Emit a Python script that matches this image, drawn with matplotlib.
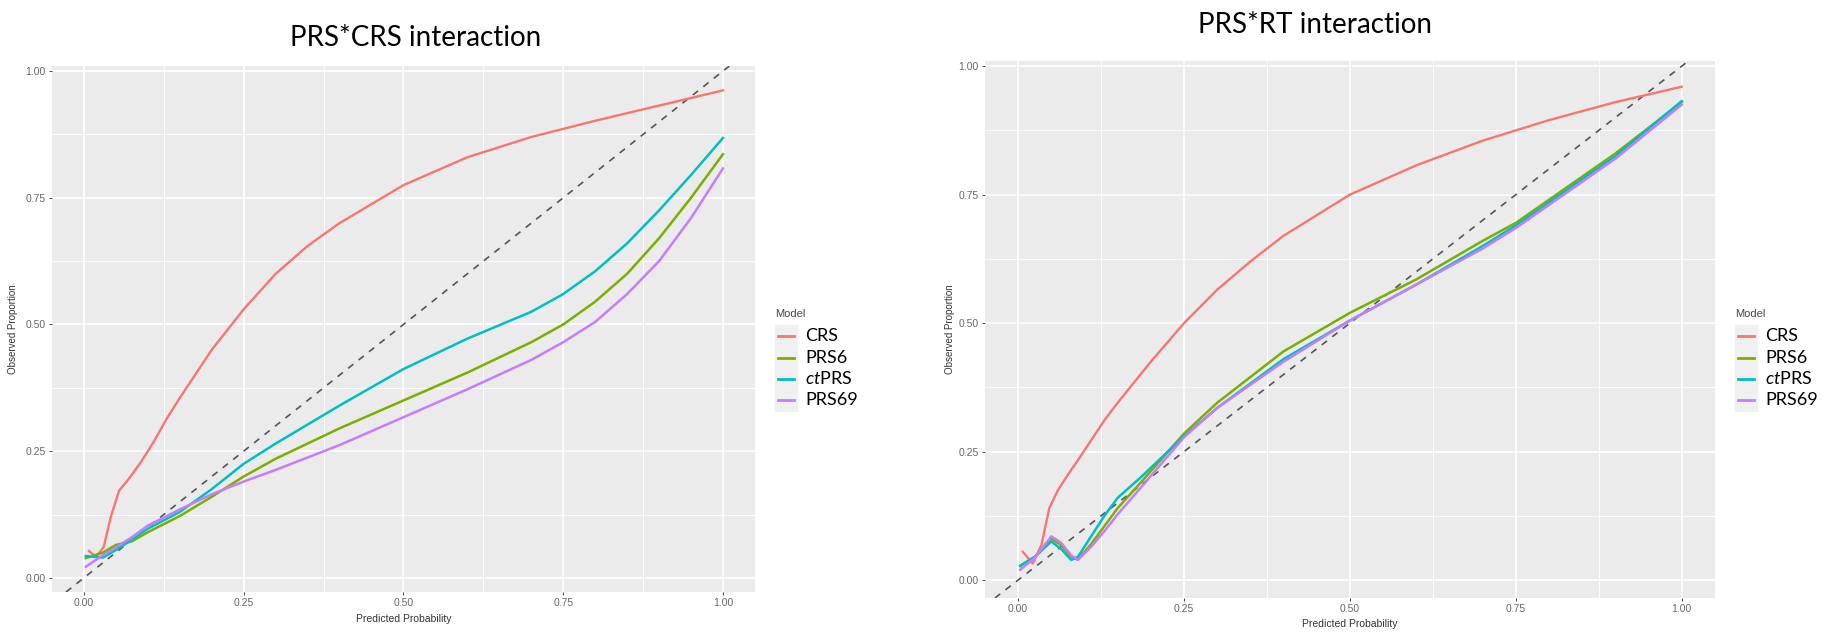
import matplotlib
matplotlib.use("Agg")
import matplotlib.pyplot as plt
from matplotlib.lines import Line2D
from matplotlib.patches import Rectangle

plt.rcParams['font.family'] = ['Liberation Sans', 'DejaVu Sans']
plt.rcParams['mathtext.fontset'] = 'custom'
plt.rcParams['mathtext.it'] = 'Lato:italic'
plt.rcParams['mathtext.rm'] = 'Lato'

models = ['CRS', 'PRS6', 'ctPRS', 'PRS69']
legend_labels = ['CRS', 'PRS6', r'$\mathit{ct}$PRS', 'PRS69']
colors = ['#F8766D', '#7CAE00', '#00BFC4', '#C77CFF']
ticks = [0.0, 0.25, 0.5, 0.75, 1.0]
tick_labels = ['0.00', '0.25', '0.50', '0.75', '1.00']

# --- PRS*CRS panel ---
crs_x_a = [0.008, 0.019, 0.031, 0.042, 0.055, 0.07, 0.089, 0.11, 0.13, 0.15,
           0.2, 0.25, 0.3, 0.35, 0.4, 0.5, 0.6, 0.7, 0.8, 0.9, 1.0]
crs_y_a = [0.053, 0.041, 0.061, 0.12, 0.172, 0.195, 0.228, 0.27, 0.315, 0.355,
           0.45, 0.53, 0.60, 0.655, 0.70, 0.775, 0.83, 0.87, 0.902, 0.932, 0.962]
prs_x_a = [0.003, 0.03, 0.05, 0.075, 0.1, 0.15, 0.2, 0.25, 0.3, 0.4, 0.5,
           0.6, 0.7, 0.75, 0.8, 0.85, 0.9, 0.95, 1.0]
prs6_y_a = [0.039, 0.050, 0.065, 0.072, 0.090, 0.122, 0.160, 0.200, 0.235,
            0.295, 0.350, 0.405, 0.465, 0.500, 0.545, 0.600, 0.670, 0.750, 0.836]
ctprs_y_a = [0.043, 0.040, 0.055, 0.075, 0.097, 0.130, 0.175, 0.225, 0.265,
             0.340, 0.412, 0.472, 0.525, 0.560, 0.605, 0.660, 0.725, 0.795, 0.868]
prs69_y_a = [0.022, 0.045, 0.060, 0.080, 0.103, 0.135, 0.165, 0.190, 0.213,
             0.262, 0.317, 0.372, 0.430, 0.465, 0.505, 0.560, 0.625, 0.710, 0.808]

# --- PRS*RT panel ---
crs_x_b = [0.007, 0.022, 0.035, 0.047, 0.06, 0.075, 0.09, 0.11, 0.13, 0.15,
           0.2, 0.25, 0.3, 0.35, 0.4, 0.5, 0.6, 0.7, 0.8, 0.9, 1.0]
crs_y_b = [0.055, 0.032, 0.068, 0.14, 0.175, 0.205, 0.233, 0.272, 0.311, 0.345,
           0.425, 0.50, 0.565, 0.62, 0.67, 0.75, 0.807, 0.855, 0.895, 0.93, 0.96]
prs_x_b = [0.003, 0.025, 0.05, 0.065, 0.08, 0.09, 0.11, 0.13, 0.15, 0.185,
           0.25, 0.3, 0.4, 0.5, 0.6, 0.7, 0.75, 0.8, 0.9, 1.0]
prs6_y_b = [0.027, 0.045, 0.080, 0.068, 0.045, 0.040, 0.070, 0.105, 0.140,
            0.190, 0.285, 0.345, 0.445, 0.520, 0.585, 0.660, 0.695, 0.740,
            0.830, 0.930]
ctprs_y_b = [0.028, 0.045, 0.075, 0.060, 0.039, 0.045, 0.085, 0.125, 0.160,
             0.200, 0.280, 0.335, 0.430, 0.505, 0.575, 0.650, 0.690, 0.735,
             0.825, 0.932]
prs69_y_b = [0.020, 0.043, 0.085, 0.072, 0.048, 0.039, 0.065, 0.095, 0.128,
             0.180, 0.278, 0.335, 0.425, 0.505, 0.575, 0.645, 0.685, 0.730,
             0.820, 0.925]

panels = [
    dict(title='PRS*CRS interaction', rect=[0.0285, 0.0706, 0.3856, 0.8257],
         ylim=(-0.028, 1.01), title_xy=(0.228, 0.94), ylab_x=0.0072, xlab_y=0.029,
         legend_x=775, crs=(crs_x_a, crs_y_a), x=prs_x_a,
         ys=[prs6_y_a, ctprs_y_a, prs69_y_a]),
    dict(title='PRS*RT interaction', rect=[0.5403, 0.0612, 0.4004, 0.8430],
         ylim=(-0.035, 1.01), title_xy=(0.7215, 0.96), ylab_x=0.5212, xlab_y=0.021,
         legend_x=1735, crs=(crs_x_b, crs_y_b), x=prs_x_b,
         ys=[prs6_y_b, ctprs_y_b, prs69_y_b]),
]

W, H = 1823, 637
fig = plt.figure(figsize=(W / 100, H / 100), dpi=100)

for p in panels:
    ax = fig.add_axes(p['rect'])
    ax.set_facecolor('#EBEBEB')
    for s in ax.spines.values():
        s.set_visible(False)
    ax.set_xlim(-0.05, 1.05)
    ax.set_ylim(*p['ylim'])
    ax.set_xticks(ticks)
    ax.set_xticklabels(tick_labels)
    ax.set_yticks(ticks)
    ax.set_yticklabels(tick_labels)
    ax.set_xticks([0.125, 0.375, 0.625, 0.875], minor=True)
    ax.set_yticks([0.125, 0.375, 0.625, 0.875], minor=True)
    ax.grid(True, which='major', color='white', lw=1.2)
    ax.grid(True, which='minor', color='white', lw=0.6)
    ax.set_axisbelow(True)
    ax.tick_params(which='major', length=2.5, width=0.7, color='#444444',
                   labelsize=7.5, labelcolor='#666666', pad=2)
    ax.tick_params(which='minor', length=0)

    ax.axline((0, 0), slope=1, color='#555555', lw=1.2, ls=(0, (4, 4)), zorder=3)
    ax.plot(p['crs'][0], p['crs'][1], color=colors[0], lw=1.7, zorder=4)
    for y, c in zip(p['ys'], colors[1:]):
        ax.plot(p['x'], y, color=c, lw=1.8, zorder=4)

    fig.text(p['title_xy'][0], p['title_xy'][1], p['title'], ha='center',
             va='center', fontsize=20, family='Lato')
    fig.text(p['ylab_x'], p['rect'][1] + p['rect'][3] / 2, 'Observed Proportion',
             rotation=90, ha='center', va='center', fontsize=7, color='#333333')
    fig.text(p['rect'][0] + p['rect'][2] / 2, p['xlab_y'], 'Predicted Probability',
             ha='center', va='center', fontsize=7.5, color='#333333')

    # legend drawn by hand (ggplot-style key boxes)
    lx = p['legend_x']
    fig.text(lx / W, 1 - 314 / H, 'Model', ha='left', va='center',
             fontsize=8, color='#444444')
    key_y = [336, 358, 379, 400]
    fig.patches.append(Rectangle((lx / W, 1 - 411 / H), 22 / W, 86 / H,
                                 transform=fig.transFigure, color='#F0F0F0',
                                 zorder=0))
    for ky, c, lab in zip(key_y, colors, legend_labels):
        fig.add_artist(Line2D([(lx + 3) / W, (lx + 19) / W], [1 - ky / H] * 2,
                              color=c, lw=2, transform=fig.transFigure))
        fig.text((lx + 30) / W, 1 - ky / H, lab, ha='left', va='center',
                 fontsize=13, family='Lato')

fig.savefig('out.png', dpi=100)
